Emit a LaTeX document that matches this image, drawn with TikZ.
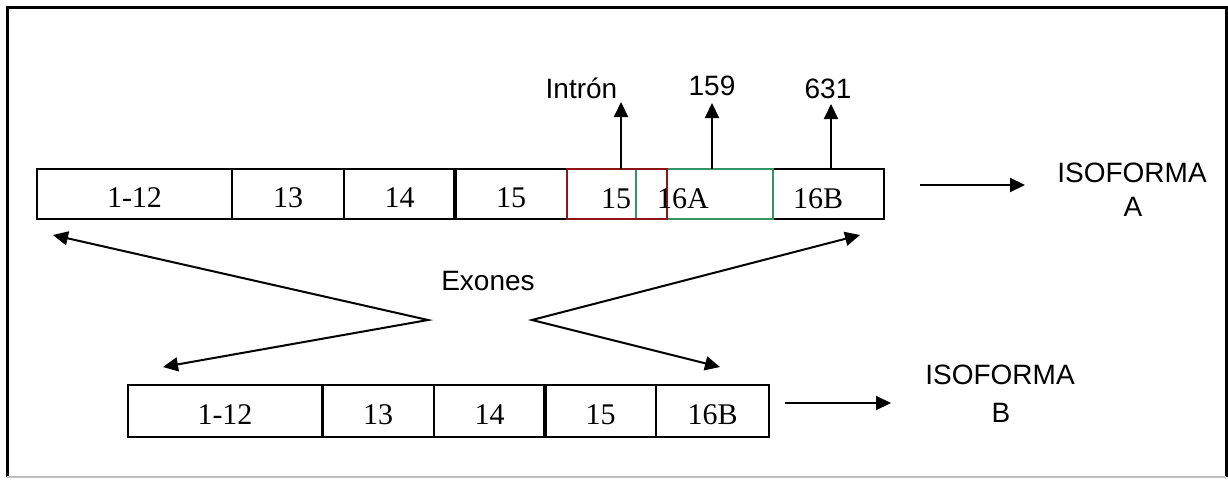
\documentclass[tikz,border=0pt]{standalone}
\usepackage{fontspec}
\setmainfont{Liberation Serif}
\newfontfamily\arialfont{Liberation Sans}
\usetikzlibrary{arrows.meta}
\definecolor{intronred}{RGB}{140,22,22}
\definecolor{exongreen}{RGB}{52,150,100}
\tikzset{
  seg/.style={draw=black, line width=2pt, rectangle, inner sep=0pt, outer sep=0pt,
              font=\fontsize{30}{34}\selectfont, text height=27pt, text depth=0pt},
  segtext/.style={inner sep=0pt, outer sep=0pt, font=\fontsize{30}{34}\selectfont},
  lbl/.style={inner sep=0pt, outer sep=0pt, font=\arialfont\fontsize{28}{33}\selectfont},
  arr/.style={line width=2pt, -{Triangle[length=15pt,width=14pt]}},
  darr/.style={line width=2pt, line join=miter,
               {Triangle[length=15pt,width=14pt]}-{Triangle[length=15pt,width=14pt]}},
  thickdiv/.style={line width=3.2pt}
}
\begin{document}
\begin{tikzpicture}[x=1pt,y=-1pt]
\useasboundingbox (0,0) rectangle (1228,479);
% frame
\draw[line width=3pt] (7,477) -- (7,7) -- (1226,7) -- (1226,477);
\draw[line width=1.5pt, black!25] (7,477) -- (1226,477);

% ---- top row (isoforma A) ----
\node[seg, minimum width=195pt, minimum height=50pt] (a1) at (134.5,194) {1-12};
\node[seg, minimum width=112pt, minimum height=50pt] (a2) at (288,194) {13};
\node[seg, minimum width=111pt, minimum height=50pt] (a3) at (399.5,194) {14};
\node[seg, minimum width=112pt, minimum height=50pt] (a4) at (511,194) {15};
\draw[thickdiv] (a4.north west) -- (a4.south west);
\node[seg, minimum width=111pt, minimum height=50pt] (a7) at (828.5,194) {};
\node[seg, draw=exongreen, minimum width=137pt, minimum height=50pt] (a6) at (704.5,194) {};
\node[seg, draw=intronred, minimum width=100pt, minimum height=50pt] (a5) at (617,194) {};
\node[segtext, anchor=base east] (t15) at (631,208) {15};
\node[segtext, anchor=base west] (t16a) at (657,208) {16A};
\node[segtext, anchor=base] (t16b) at (818,208) {16B};

% up arrows and labels
\coordinate (tipI) at (621,102);
\coordinate (tip159) at (712,103);
\coordinate (tip631) at (831,104);
\draw[arr] (a5.north -| tipI) -- (tipI);
\draw[arr] (a6.north -| tip159) -- (tip159);
\draw[arr] (a7.north -| tip631) -- (tip631);
\node[lbl, anchor=base] (lintron) at (581.5,98) {Intrón};
\node[lbl, anchor=base] (l159) at (712,95) {159};
\node[lbl, anchor=base] (l631) at (828,98) {631};

% isoforma A
\node[lbl, anchor=base] (isoA1) at (1132,182) {ISOFORMA};
\node[lbl, anchor=base] (isoA2) at (1133,216) {A};
\coordinate (arAs) at (920,185);
\coordinate (arAe) at (1025,185);
\draw[arr] (arAs) -- (arAe);

% ---- bottom row (isoforma B) ----
\node[seg, minimum width=195pt, minimum height=52pt] (b1) at (225,411) {1-12};
\node[seg, minimum width=112pt, minimum height=52pt] (b2) at (378,411) {13};
\node[seg, minimum width=111pt, minimum height=52pt] (b3) at (489.5,411) {14};
\node[seg, minimum width=111pt, minimum height=52pt] (b4) at (600.5,411) {15};
\node[seg, minimum width=113pt, minimum height=52pt] (b5) at (712.5,411) {16B};
\draw[thickdiv] (b4.north west) -- (b4.south west);

% isoforma B
\node[lbl, anchor=base] (isoB1) at (1000,384) {ISOFORMA};
\node[lbl, anchor=base] (isoB2) at (1001,422) {B};
\coordinate (arBs) at (785,403);
\coordinate (arBe) at (891,403);
\draw[arr] (arBs) -- (arBe);

% exones
\node[lbl, anchor=base] (exones) at (488,290) {Exones};
\coordinate (apexL) at (428,320);
\coordinate (apexR) at (532,320);
\coordinate (tipUL) at (53,235);
\coordinate (tipLL) at (163,367);
\coordinate (tipUR) at (860,235);
\coordinate (tipLR) at (720,367);
\draw[darr] (tipUL) -- (apexL) -- (tipLL);
\draw[darr] (tipUR) -- (apexR) -- (tipLR);
\end{tikzpicture}
\end{document}
